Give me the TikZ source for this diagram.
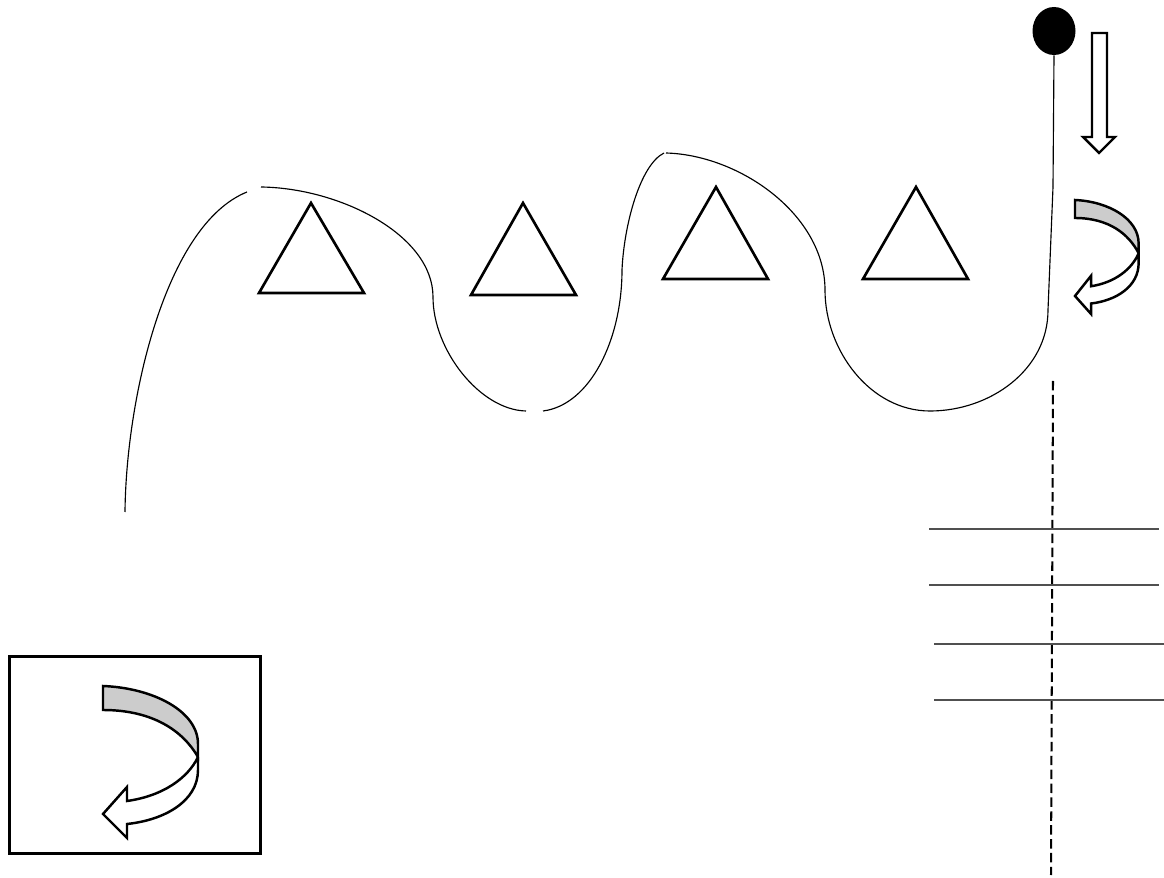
\documentclass[tikz,border=0pt]{standalone}
\usetikzlibrary{shapes.geometric}
\definecolor{twistgray}{RGB}{204,204,204}
\definecolor{levelgray}{RGB}{80,80,80}

\begin{document}
\begin{tikzpicture}[
    x=0.02cm, y=-0.02cm,
    thinline/.style={line width=0.65pt, color=black},
    outline/.style={line width=1.4pt, color=black, line join=miter},
    triangleshape/.style={line width=1.5pt, color=black, line join=miter},
    levelline/.style={line width=0.95pt, color=levelgray},
    axisline/.style={line width=1.15pt, color=black, dash pattern=on 5.4pt off 2.5pt},
    twistarrow/.pic={
        \fill[white] (0,0) .. controls (50,2) and (95,25) .. (95,58) -- (95,84) .. controls (95,115) and (62,134) .. (24,138) -- (24,152) -- (0,128) -- (24,101) -- (24,115) .. controls (60,110) and (85,92) .. (95,71) -- cycle;
        \filldraw[outline, fill=twistgray] (0,0) .. controls (50,2) and (95,25) .. (95,58) -- (95,71) .. controls (80,45) and (50,24) .. (0,24) -- cycle;
        \draw[outline] (95,71) -- (95,84) .. controls (95,115) and (62,134) .. (24,138) -- (24,152) -- (0,128) -- (24,101) -- (24,115) .. controls (60,110) and (85,92) .. (95,71);
    }
]
\useasboundingbox (0,0) rectangle (1164,878);

% pendulum
\node[ellipse, fill=black, minimum width=0.86cm, minimum height=0.96cm, inner sep=0pt] (dot) at (1054,31) {};
\coordinate (stemend) at (1053,187);
\draw[thinline] (dot.south) -- (stemend);
\draw[outline] (1092,33) -- (1107,33) -- (1107,137) -- (1115,137) -- (1099,153) -- (1083,137) -- (1092,137) -- cycle;

% wavy line
\draw[thinline] (125,512) .. controls (126,400) and (165,225) .. (247,192);
\draw[thinline] (261,187) .. controls (340,188) and (433,235) .. (433,297) .. controls (433,350) and (480,410) .. (526,411);
\draw[thinline] (543,411) .. controls (590,405) and (622,340) .. (622,270) .. controls (624,225) and (640,165) .. (664,153);
\draw[thinline] (666,153) .. controls (740,155) and (825,215) .. (825,290) .. controls (825,350) and (870,411) .. (930,411) .. controls (990,411) and (1048,370) .. (1048,310) -- (stemend);

% triangles
\draw[triangleshape] (311,203) -- (364,293) -- (259,293) -- cycle;
\draw[triangleshape] (523,203) -- (576,295) -- (471,295) -- cycle;
\draw[triangleshape] (716,187) -- (768,279) -- (663,279) -- cycle;
\draw[triangleshape] (916,187) -- (968,279) -- (863,279) -- cycle;

% twisted arrows
\pic[xscale=0.67, yscale=0.75] (smalltwist) at (1075,200) {twistarrow};
\node[draw, line width=1.7pt, minimum width=5.04cm, minimum height=3.96cm, inner sep=0pt] (frame) at (135,755) {};
\pic (bigtwist) at (103,686) {twistarrow};

% axis and levels
\draw[axisline] (1053,381) -- (1051,875);
\draw[levelline] (929,529) -- (1159,529);
\draw[levelline] (929,585) -- (1159,585);
\draw[levelline] (934,644) -- (1164,644);
\draw[levelline] (934,700) -- (1164,700);
\end{tikzpicture}
\end{document}
